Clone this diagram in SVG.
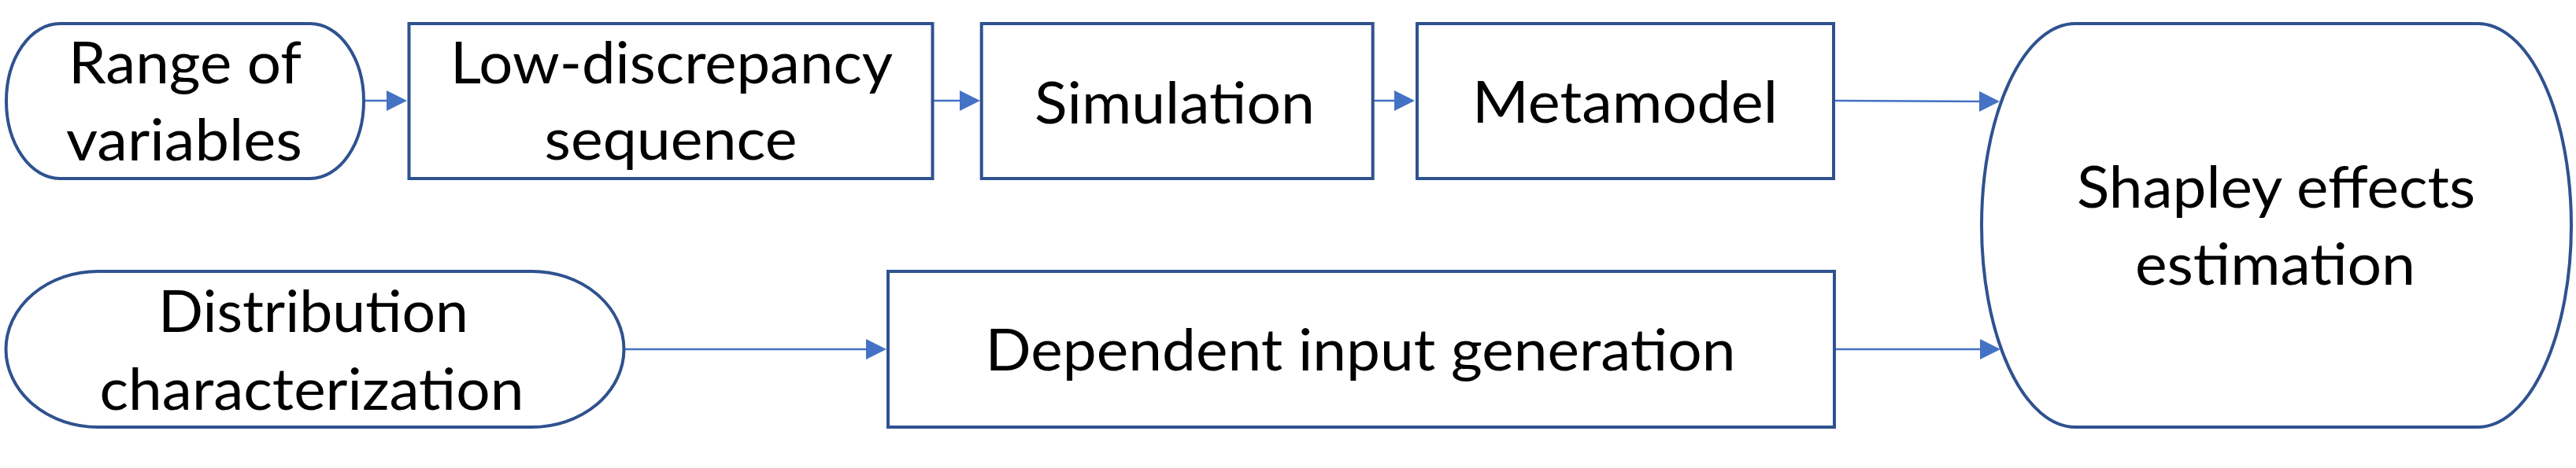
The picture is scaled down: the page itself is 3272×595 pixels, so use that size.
<svg xmlns="http://www.w3.org/2000/svg" width="3272" height="595" viewBox="0 0 3272 595">
<style>
.node{fill:#ffffff;stroke:#2F528F;stroke-width:4}
.lbl{font-family:Lato,"Open Sans","Liberation Sans",sans-serif;font-size:74px;fill:#000000;text-anchor:middle}
.conn{stroke:#4472C4;stroke-width:2.5;fill:none}
</style>
<defs>
<marker id="arrow" viewBox="0 0 26 26" markerWidth="26" markerHeight="26" refX="6" refY="13" orient="auto" markerUnits="userSpaceOnUse">
<path d="M0,0 L26,13 L0,26 Z" fill="#4472C4"/>
</marker>
</defs>
<rect width="3272" height="595" fill="#ffffff"/>
<g id="connectors">
<line class="conn" x1="462" y1="128" x2="497" y2="128" marker-end="url(#arrow)"/>
<line class="conn" x1="1185" y1="128" x2="1225" y2="128" marker-end="url(#arrow)"/>
<line class="conn" x1="1744" y1="128" x2="1777" y2="128" marker-end="url(#arrow)"/>
<line class="conn" x1="2329" y1="128" x2="2520" y2="129" marker-end="url(#arrow)"/>
<line class="conn" x1="792" y1="444" x2="1106" y2="444" marker-end="url(#arrow)"/>
<line class="conn" x1="2330" y1="444" x2="2521" y2="444" marker-end="url(#arrow)"/>
</g>
<g id="range">
<rect class="node" x="8" y="30" width="454" height="197" rx="68" ry="98.5"/>
<text class="lbl" x="235" y="106" textLength="296" lengthAdjust="spacingAndGlyphs">Range of</text>
<text class="lbl" x="234" y="204" textLength="300" lengthAdjust="spacingAndGlyphs">variables</text>
</g>
<g id="lowdisc">
<rect class="node" x="519.5" y="30" width="665" height="197"/>
<text class="lbl" x="853" y="106" textLength="562" lengthAdjust="spacingAndGlyphs">Low-discrepancy</text>
<text class="lbl" x="852" y="203" textLength="321" lengthAdjust="spacingAndGlyphs">sequence</text>
</g>
<g id="simulation">
<rect class="node" x="1246.7" y="30" width="497" height="197"/>
<text class="lbl" x="1492" y="157" textLength="356" lengthAdjust="spacingAndGlyphs">Simulation</text>
</g>
<g id="metamodel">
<rect class="node" x="1800" y="30" width="529" height="197"/>
<text class="lbl" x="2064" y="156" textLength="388" lengthAdjust="spacingAndGlyphs">Metamodel</text>
</g>
<g id="shapley">
<rect class="node" x="2517" y="30" width="749" height="513" rx="119" ry="256.5"/>
<text class="lbl" x="2891" y="264" textLength="506" lengthAdjust="spacingAndGlyphs">Shapley effects</text>
<text class="lbl" x="2890" y="362" textLength="356" lengthAdjust="spacingAndGlyphs">estimation</text>
</g>
<g id="distribution">
<rect class="node" x="7.5" y="345" width="785" height="198" rx="117" ry="99"/>
<text class="lbl" x="398" y="422" textLength="394" lengthAdjust="spacingAndGlyphs">Distribution</text>
<text class="lbl" x="396" y="521" textLength="539" lengthAdjust="spacingAndGlyphs">characterization</text>
</g>
<g id="dependent">
<rect class="node" x="1128" y="345" width="1202" height="198"/>
<text class="lbl" x="1728" y="471" textLength="953" lengthAdjust="spacingAndGlyphs">Dependent input generation</text>
</g>
</svg>
